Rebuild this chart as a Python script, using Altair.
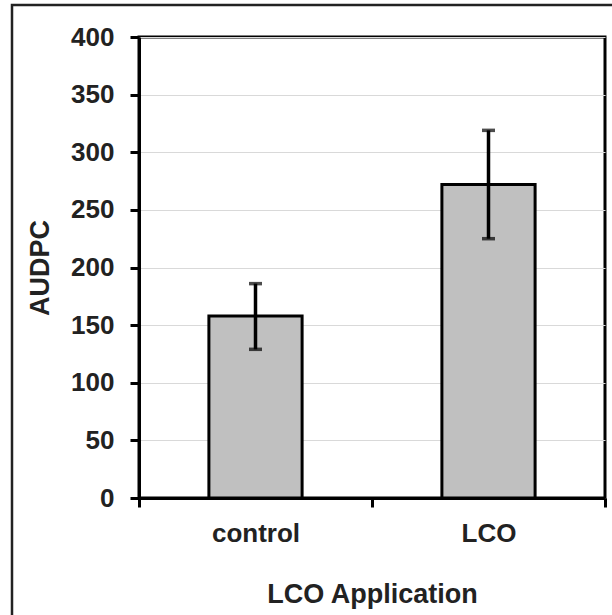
import altair as alt
import pandas as pd

categories = ["control", "LCO"]
means = [158, 272]
err_low = [129, 225]
err_high = [186, 319]

df = pd.DataFrame({"cat": categories, "mean": means, "lo": err_low, "hi": err_high})

W, H = 466, 461
FONT = "Liberation Sans"
TXT = "#222222"

x_enc = alt.X(
    "cat:N",
    sort=categories,
    scale=alt.Scale(paddingInner=0, paddingOuter=0),
    axis=alt.Axis(
        title="LCO Application",
        tickBand="extent",
        labelAngle=0,
        grid=False,
        labelFontSize=26,
        titleFontSize=27,
        labelPadding=13,
        titlePadding=35,
    ),
)
y_scale = alt.Scale(domain=[0, 400], nice=False)

bars = alt.Chart(df).mark_bar(
    width={"band": 0.4}, color="#c0c0c0", stroke="black", strokeWidth=3
).encode(
    x=x_enc,
    y=alt.Y(
        "mean:Q",
        scale=y_scale,
        axis=alt.Axis(
            title="AUDPC",
            values=list(range(0, 401, 50)),
            labelFontSize=26,
            titleFontSize=27,
            labelPadding=16,
            titlePadding=16,
        ),
    ),
)

rules = alt.Chart(df).mark_rule(color="black", strokeWidth=3.5).encode(
    x=alt.X("cat:N", sort=categories), y=alt.Y("lo:Q", scale=y_scale), y2="hi:Q"
)
cap_lo = alt.Chart(df).mark_tick(color="black", thickness=3.5, size=13).encode(
    x=alt.X("cat:N", sort=categories), y=alt.Y("lo:Q", scale=y_scale)
)
cap_hi = alt.Chart(df).mark_tick(color="black", thickness=3.5, size=13).encode(
    x=alt.X("cat:N", sort=categories), y=alt.Y("hi:Q", scale=y_scale)
)

frame = alt.Chart(alt.Data(values=[{"a": 1}])).mark_rect(
    fillOpacity=0, stroke="#222222", strokeWidth=2.5
).encode(
    x=alt.value(-127), x2=alt.value(W + 60), y=alt.value(-32), y2=alt.value(H + 200)
)

chart = alt.layer(bars, rules, cap_lo, cap_hi, frame).properties(
    width=W,
    height=H,
    autosize=alt.AutoSizeParams(type="none"),
    padding={"left": 139, "top": 37, "right": 7, "bottom": 117},
    background="white",
).configure_axis(
    labelFont=FONT,
    titleFont=FONT,
    labelFontWeight="bold",
    titleFontWeight="bold",
    labelColor=TXT,
    titleColor=TXT,
    domainColor="black",
    domainWidth=3,
    tickColor="black",
    tickWidth=3,
    tickSize=9,
    gridColor="#d9d9d9",
    gridWidth=1.2,
).configure_view(stroke="black", strokeWidth=3)

chart.save("out.html", embed_options={"renderer": "svg", "actions": False})
